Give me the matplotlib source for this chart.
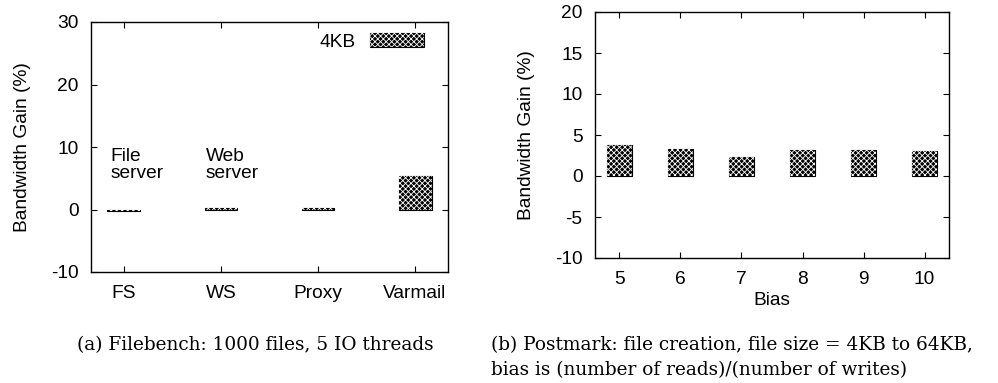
import matplotlib
matplotlib.use("Agg")
import matplotlib.pyplot as plt
import matplotlib.patches as mpatches

# Filebench workloads
workloads = ["FS", "WS", "Proxy", "Varmail"]
filebench_gain = [-0.3, 0.3, 0.3, 5.4]

# Postmark bias sweep
bias = [5, 6, 7, 8, 9, 10]
postmark_gain = [3.8, 3.3, 2.35, 3.2, 3.2, 3.05]

plt.rcParams["font.family"] = ["Liberation Sans", "DejaVu Sans"]
plt.rcParams["axes.unicode_minus"] = False
plt.rcParams["hatch.linewidth"] = 0.6

FS = 13.8
HATCH = "xxxxxx"
W, H = 998, 383
fig = plt.figure(figsize=(W / 100, H / 100), dpi=100)


def px_axes(left, top, right, bottom):
    return fig.add_axes([left / W, 1 - bottom / H, (right - left) / W, (bottom - top) / H])


def draw_bars(ax, xs, ys, width):
    # dark checker-like fill: black base with a fine white cross hatch on top
    ax.bar(xs, ys, width=width, color="black", edgecolor="black", linewidth=0.8, zorder=2)
    ax.bar(xs, ys, width=width, color="none", edgecolor="white", hatch=HATCH,
           linewidth=0, zorder=3)


def style_axes(ax):
    for s in ax.spines.values():
        s.set_linewidth(1.0)
    ax.tick_params(direction="in", length=4, width=0.8, top=True, right=True,
                   labelsize=FS)
    ax.tick_params(axis="x", pad=9)
    ax.tick_params(axis="y", pad=9)


# (a) Filebench
ax1 = px_axes(91, 22, 448, 272)
xpos = list(range(1, len(workloads) + 1))
draw_bars(ax1, xpos, filebench_gain, 0.34)
ax1.set_xlim(0.66, 4.34)
ax1.set_ylim(-10, 30)
ax1.set_yticks([-10, 0, 10, 20, 30])
ax1.set_xticks(xpos)
ax1.set_xticklabels(workloads)
ax1.set_ylabel("Bandwidth Gain (%)", fontsize=FS, labelpad=14)
style_axes(ax1)
ax1.text(0.86, 9.9, "File\nserver", fontsize=FS, va="top", ha="left", linespacing=1.05)
ax1.text(1.84, 9.9, "Web\nserver", fontsize=FS, va="top", ha="left", linespacing=1.05)

h_fill = mpatches.Patch(facecolor="black", edgecolor="black", linewidth=0.8)
h_hatch = mpatches.Patch(facecolor="none", edgecolor="white", hatch=HATCH, linewidth=0)
ax1.legend([(h_fill, h_hatch)], ["4KB"], loc="upper right", bbox_to_anchor=(0.96, 0.995),
           frameon=False, markerfirst=False, fontsize=FS, handlelength=2.8,
           handleheight=0.8, borderpad=0, handletextpad=0.8)

# (b) Postmark
ax2 = px_axes(595, 12, 949, 258)
draw_bars(ax2, bias, postmark_gain, 0.41)
ax2.set_xlim(4.6, 10.4)
ax2.set_ylim(-10, 20)
ax2.set_yticks([-10, -5, 0, 5, 10, 15, 20])
ax2.set_xticks(bias)
ax2.set_xlabel("Bias", fontsize=FS, labelpad=3)
ax2.set_ylabel("Bandwidth Gain (%)", fontsize=FS, labelpad=14)
style_axes(ax2)

# captions
cap = dict(fontsize=13.3, family=["DejaVu Serif"], va="center")
fig.text(77 / W, 1 - 345 / H, "(a) Filebench: 1000 files, 5 IO threads", ha="left", **cap)
fig.text(491 / W, 1 - 345 / H, "(b) Postmark: file creation, file size = 4KB to 64KB,",
         ha="left", **cap)
fig.text(491 / W, 1 - 370 / H, "bias is (number of reads)/(number of writes)", ha="left", **cap)

fig.savefig("out.png", dpi=100)
